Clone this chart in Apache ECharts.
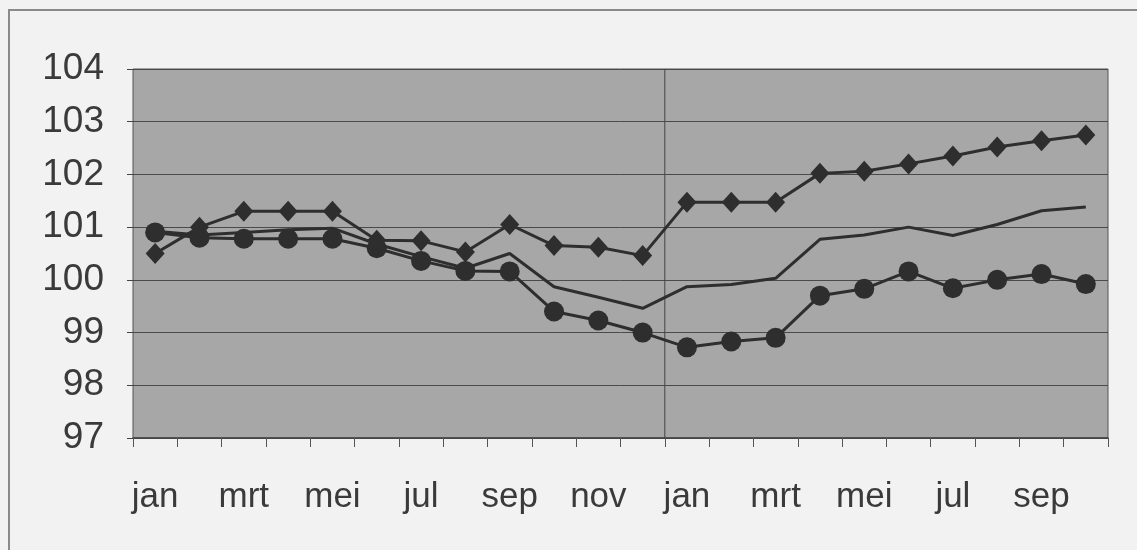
<!DOCTYPE html>
<html>
<head>
<meta charset="utf-8">
<script src="https://cdn.jsdelivr.net/npm/echarts@6/dist/echarts.min.js"></script>
<style>
html,body{margin:0;padding:0;background:#f2f2f2;}
#c{width:1137px;height:550px;}
</style>
</head>
<body>
<div id="c"></div>
<script>
var categories = ['jan','feb','mrt','apr','mei','jun','jul','aug','sep','okt','nov','dec',
                  'jan','feb','mrt','apr','mei','jun','jul','aug','sep','okt'];
var diamondSeries = [100.5,101.0,101.3,101.3,101.3,100.75,100.74,100.53,101.05,100.65,100.62,100.46,
                     101.47,101.47,101.47,102.02,102.06,102.2,102.35,102.52,102.64,102.75];
var middleSeries = [100.92,100.85,100.9,100.95,100.98,100.68,100.44,100.22,100.5,99.87,99.67,99.46,
                    99.87,99.91,100.03,100.77,100.85,101.0,100.84,101.05,101.31,101.38];
var circleSeries = [100.9,100.8,100.78,100.78,100.78,100.6,100.36,100.17,100.16,99.4,99.23,99.0,
                    98.72,98.83,98.9,99.7,99.83,100.16,99.84,100.0,100.11,99.92];
var yTicks = [97,98,99,100,101,102,103,104];
var yearBoundary = [[12,97],[12,104]];

var chart = echarts.init(document.getElementById('c'), null, {renderer:'canvas'});
var lineColor = '#2e2e2e';
chart.setOption({
  backgroundColor: '#f2f2f2',
  animation: false,
  graphic: [{
    type: 'rect', shape: {x: 9, y: 10, width: 1140, height: 560},
    style: {fill: 'none', stroke: '#8a8a8a', lineWidth: 2}, z: 0
  }],
  grid: {left: 133, right: 29, top: 69, bottom: 112, show: true,
         backgroundColor: '#a7a7a7', borderColor: '#555', borderWidth: 1},
  xAxis: [{
    type: 'category', data: categories, boundaryGap: true,
    axisLine: {lineStyle: {color: '#444', width: 1.5}},
    axisTick: {show: true, interval: 0, length: 9, lineStyle: {color: '#555'}},
    axisLabel: {interval: 1, color: '#3a3a3a', fontSize: 35, fontFamily: 'Liberation Sans', margin: 42},
    splitLine: {show: false}
  }, {
    type: 'value', min: 0, max: 22, show: false
  }],
  yAxis: [{
    type: 'value', min: yTicks[0], max: yTicks[yTicks.length-1], interval: 1,
    axisLine: {show: false},
    axisTick: {show: true, length: 6, lineStyle: {color: '#444'}},
    axisLabel: {color: '#3a3a3a', fontSize: 37, fontFamily: 'Liberation Sans', margin: 29},
    splitLine: {show: true, lineStyle: {color: '#4a4a4a', width: 1}}
  }],
  series: [{
    type: 'line', xAxisIndex: 1, data: yearBoundary, symbol: 'none',
    lineStyle: {color: '#444', width: 1}, z: 1, silent: true
  }, {
    name: 'middle', type: 'line', data: middleSeries, symbol: 'none',
    lineStyle: {color: lineColor, width: 3}, z: 2
  }, {
    name: 'diamond', type: 'line', data: diamondSeries, symbol: 'diamond', symbolSize: [19, 21],
    lineStyle: {color: lineColor, width: 3}, itemStyle: {color: lineColor}, z: 3
  }, {
    name: 'circle', type: 'line', data: circleSeries, symbol: 'circle', symbolSize: 20,
    lineStyle: {color: lineColor, width: 3}, itemStyle: {color: lineColor}, z: 4
  }]
});
</script>
</body>
</html>
